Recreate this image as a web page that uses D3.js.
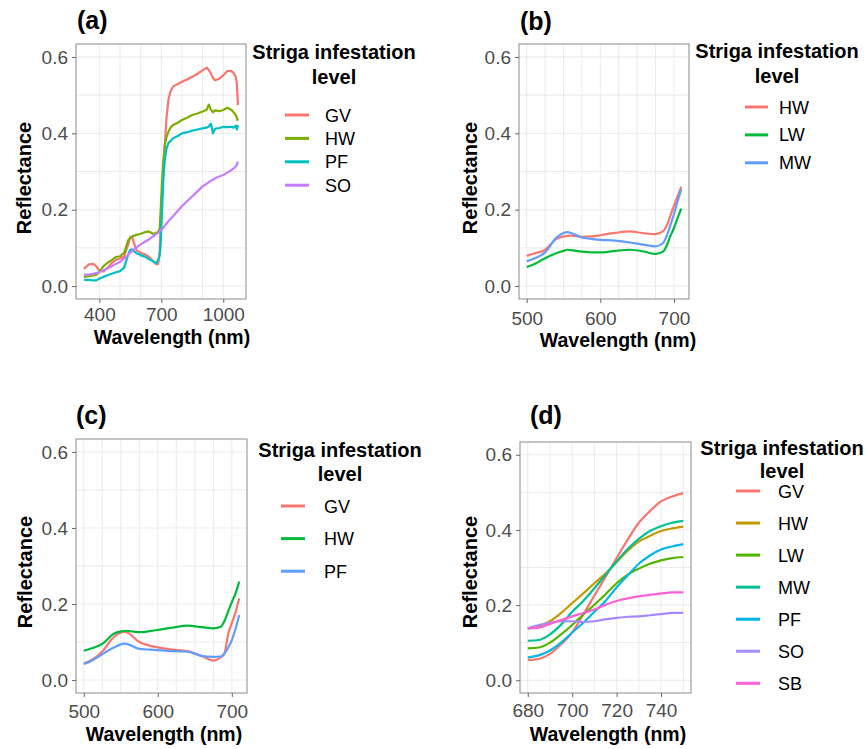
<!DOCTYPE html>
<html>
<head>
<meta charset="utf-8">
<script src="https://cdn.jsdelivr.net/npm/d3@7"></script>
<style>
	body { margin: 0; background: #fff; }
	svg { font-family: "Liberation Sans", Arial, sans-serif; }
	.grid line { stroke: #ebebeb; stroke-width: 1; }
	.border { fill: none; stroke: #8a8a8a; stroke-width: 1; }
	.axis .tick line { stroke: #666; }
	.axis .tick text { fill: #4d4d4d; font-size: 19px; }
	.axis .domain { display: none; }
	.spectrum { fill: none; stroke-width: 2.2; stroke-linejoin: round; }
	.bold { font-weight: bold; fill: #000; }
</style>
</head>
<body>
<svg id="chart" width="865" height="749"></svg>
<script>
// shared reflectance axis
let reflectTicks = [0, 0.2, 0.4, 0.6];
let reflectGrid = [0, 0.1, 0.2, 0.3, 0.4, 0.5, 0.6];

// (a) full range
let waveA = [325, 350, 370, 385, 400, 420, 440, 460, 480, 500, 520, 540, 550, 560, 570, 580, 600, 620, 640, 660,
	675, 685, 692, 697, 703, 710, 717, 725, 735, 745, 757, 780, 800, 825, 850, 875, 900, 920, 930, 940,
	950, 960, 980, 1000, 1020, 1040, 1050, 1060, 1066, 1071];
let aGV = [0.045, 0.057, 0.058, 0.052, 0.040, 0.038, 0.048, 0.060, 0.068, 0.072, 0.078, 0.109, 0.129, 0.126, 0.109, 0.094, 0.087, 0.083, 0.077, 0.065,
	0.057, 0.058, 0.09, 0.16, 0.23, 0.30, 0.37, 0.44, 0.49, 0.51, 0.523, 0.529, 0.535, 0.541, 0.548, 0.556, 0.565, 0.572, 0.566, 0.557,
	0.545, 0.539, 0.543, 0.552, 0.563, 0.563, 0.558, 0.548, 0.53, 0.474];
let aHW = [0.024, 0.026, 0.028, 0.030, 0.037, 0.052, 0.061, 0.068, 0.076, 0.078, 0.087, 0.120, 0.126, 0.130, 0.132, 0.134, 0.137, 0.141, 0.143, 0.137,
	0.139, 0.142, 0.150, 0.20, 0.27, 0.33, 0.37, 0.39, 0.405, 0.415, 0.422, 0.428, 0.435, 0.441, 0.448, 0.452, 0.457, 0.462, 0.475, 0.462,
	0.455, 0.460, 0.458, 0.461, 0.467, 0.461, 0.455, 0.448, 0.44, 0.433];
let aPF = [0.016, 0.016, 0.015, 0.015, 0.019, 0.024, 0.028, 0.032, 0.036, 0.039, 0.048, 0.083, 0.095, 0.096, 0.090, 0.086, 0.081, 0.077, 0.071, 0.065,
	0.060, 0.068, 0.08, 0.11, 0.19, 0.28, 0.33, 0.36, 0.375, 0.38, 0.387, 0.393, 0.400, 0.403, 0.407, 0.410, 0.413, 0.415, 0.418, 0.425,
	0.400, 0.412, 0.414, 0.417, 0.416, 0.417, 0.415, 0.42, 0.41, 0.422];
let aSO = [0.030, 0.030, 0.032, 0.034, 0.036, 0.041, 0.046, 0.052, 0.058, 0.063, 0.072, 0.082, 0.087, 0.092, 0.097, 0.101, 0.109, 0.116, 0.122, 0.130,
	0.136, 0.140, 0.143, 0.146, 0.149, 0.153, 0.158, 0.163, 0.170, 0.176, 0.183, 0.197, 0.209, 0.222, 0.235, 0.248, 0.261, 0.268, 0.272, 0.276,
	0.278, 0.282, 0.287, 0.291, 0.297, 0.304, 0.308, 0.313, 0.318, 0.326];

// (b) and (c) visible range
let waveBC = [500, 510, 525, 540, 550, 555, 560, 575, 590, 600, 620, 640, 660, 675, 685, 690, 695, 700, 705, 710];
let bHW = [0.079, 0.085, 0.095, 0.123, 0.130, 0.131, 0.132, 0.129, 0.130, 0.133, 0.139, 0.143, 0.138, 0.136, 0.143, 0.157, 0.183, 0.210, 0.235, 0.260];
let bLW = [0.050, 0.057, 0.073, 0.086, 0.092, 0.095, 0.094, 0.090, 0.088, 0.088, 0.092, 0.095, 0.090, 0.084, 0.090, 0.105, 0.130, 0.152, 0.178, 0.203];
let bMW = [0.065, 0.072, 0.088, 0.126, 0.139, 0.141, 0.139, 0.127, 0.123, 0.121, 0.119, 0.114, 0.108, 0.104, 0.112, 0.130, 0.158, 0.188, 0.222, 0.254];
let cGV = [0.044, 0.052, 0.075, 0.112, 0.125, 0.127, 0.124, 0.100, 0.090, 0.086, 0.080, 0.076, 0.063, 0.051, 0.060, 0.070, 0.120, 0.150, 0.178, 0.215];
let cHW = [0.077, 0.083, 0.095, 0.121, 0.128, 0.129, 0.129, 0.126, 0.129, 0.132, 0.138, 0.143, 0.139, 0.136, 0.140, 0.155, 0.180, 0.205, 0.228, 0.259];
let cPF = [0.042, 0.050, 0.068, 0.085, 0.094, 0.096, 0.094, 0.082, 0.080, 0.079, 0.076, 0.075, 0.063, 0.061, 0.062, 0.070, 0.085, 0.105, 0.135, 0.171];

// (d) red edge
let waveD = [680, 685, 690, 695, 700, 705, 710, 715, 720, 725, 730, 735, 740, 745, 750];
let dGV = [0.054, 0.057, 0.070, 0.096, 0.127, 0.175, 0.225, 0.275, 0.325, 0.374, 0.419, 0.450, 0.476, 0.489, 0.498];
let dHW = [0.138, 0.144, 0.157, 0.179, 0.205, 0.231, 0.258, 0.284, 0.314, 0.345, 0.369, 0.384, 0.397, 0.404, 0.409];
let dLW = [0.085, 0.087, 0.100, 0.122, 0.147, 0.175, 0.201, 0.229, 0.258, 0.281, 0.297, 0.310, 0.319, 0.325, 0.328];
let dMW = [0.105, 0.107, 0.122, 0.148, 0.182, 0.211, 0.245, 0.280, 0.316, 0.349, 0.376, 0.397, 0.410, 0.419, 0.424];
let dPF = [0.061, 0.066, 0.079, 0.100, 0.127, 0.153, 0.182, 0.211, 0.247, 0.279, 0.310, 0.332, 0.348, 0.356, 0.362];
let dSO = [0.138, 0.147, 0.153, 0.157, 0.157, 0.155, 0.157, 0.162, 0.166, 0.169, 0.170, 0.173, 0.176, 0.179, 0.179];
let dSB = [0.138, 0.140, 0.150, 0.160, 0.170, 0.179, 0.188, 0.201, 0.211, 0.218, 0.223, 0.227, 0.231, 0.234, 0.234];

let legendTitle = ['Striga infestation', 'level'];

let panels = [
	{
		label: '(a)', labelX: 77, labelY: 29,
		left: 76, right: 246, top: 44, bottom: 299,
		xDomain: [287, 1110], xTicks: [400, 700, 1000], xGrid: d3.range(400, 1001, 100),
		waves: waveA, curve: d3.curveLinear,
		series: [
			{name: 'GV', values: aGV, color: '#F8766D'},
			{name: 'HW', values: aHW, color: '#7CAE00'},
			{name: 'PF', values: aPF, color: '#00BFC4'},
			{name: 'SO', values: aSO, color: '#C77CFF'}
		],
		xTickY: 22, xTitle: {x: 172, y: 344}, yTitle: {x: 31, y: 178},
		legend: {cx: 334, t1: 59, t2: 84, first: 115, step: 23.4, k1: 285, k2: 309, tx: 325}
	},
	{
		label: '(b)', labelX: 520, labelY: 30,
		left: 519, right: 689, top: 44, bottom: 299,
		xDomain: [489.5, 720.5], xTicks: [500, 600, 700], xGrid: d3.range(500, 701, 25),
		waves: waveBC, curve: d3.curveMonotoneX,
		series: [
			{name: 'HW', values: bHW, color: '#F8766D'},
			{name: 'LW', values: bLW, color: '#00BA38'},
			{name: 'MW', values: bMW, color: '#619CFF'}
		],
		xTickY: 26, xTitle: {x: 618, y: 347}, yTitle: {x: 477, y: 178},
		legend: {cx: 777, t1: 58, t2: 83, first: 107, step: 27.9, k1: 745, k2: 768, tx: 779}
	},
	{
		label: '(c)', labelX: 76, labelY: 424,
		left: 76, right: 247, top: 439, bottom: 693,
		xDomain: [489.5, 720.5], xTicks: [500, 600, 700], xGrid: d3.range(500, 701, 25),
		waves: waveBC, curve: d3.curveMonotoneX,
		series: [
			{name: 'GV', values: cGV, color: '#F8766D'},
			{name: 'HW', values: cHW, color: '#00BA38'},
			{name: 'PF', values: cPF, color: '#619CFF'}
		],
		xTickY: 25, xTitle: {x: 164, y: 741}, yTitle: {x: 32, y: 572},
		legend: {cx: 340, t1: 457, t2: 481, first: 506, step: 32.6, k1: 281, k2: 305, tx: 324}
	},
	{
		label: '(d)', labelX: 530, labelY: 424,
		left: 520, right: 691, top: 442, bottom: 693,
		xDomain: [676.5, 753.5], xTicks: [680, 700, 720, 740], xGrid: d3.range(680, 751, 10),
		waves: waveD, curve: d3.curveMonotoneX,
		series: [
			{name: 'GV', values: dGV, color: '#F8766D'},
			{name: 'HW', values: dHW, color: '#C49A00'},
			{name: 'LW', values: dLW, color: '#53B400'},
			{name: 'MW', values: dMW, color: '#00C094'},
			{name: 'PF', values: dPF, color: '#00B6EB'},
			{name: 'SO', values: dSO, color: '#A58AFF'},
			{name: 'SB', values: dSB, color: '#FB61D7'}
		],
		xTickY: 24, xTitle: {x: 608, y: 741}, yTitle: {x: 476.5, y: 572},
		legend: {cx: 782, t1: 455, t2: 478, first: 491, step: 32.05, k1: 736, k2: 760, tx: 778}
	}
];

function SpectraPanel(svg, p) {
	// y range is the same for every panel, 0.6 sits 13px under the top edge
	let x = d3.scaleLinear().domain(p.xDomain).range([p.left, p.right]);
	let y = d3.scaleLinear().domain([-0.034, 0.634]).range([p.bottom, p.top]);

	let g = svg.append('g').attr('class', 'panel');

	let grid = g.append('g').attr('class', 'grid');
	grid.selectAll('line.h')
		.data(reflectGrid)
		.enter().append('line')
			.attr('class', 'h')
			.attr('x1', p.left).attr('x2', p.right)
			.attr('y1', function(d) { return y(d); })
			.attr('y2', function(d) { return y(d); });
	grid.selectAll('line.v')
		.data(p.xGrid)
		.enter().append('line')
			.attr('class', 'v')
			.attr('y1', p.top).attr('y2', p.bottom)
			.attr('x1', function(d) { return x(d); })
			.attr('x2', function(d) { return x(d); });

	let line = d3.line()
		.x(function(d, i) { return x(p.waves[i]); })
		.y(function(d) { return y(d); })
		.curve(p.curve);

	g.append('g')
		.selectAll('path')
		.data(p.series)
		.enter().append('path')
			.attr('class', 'spectrum')
			.attr('stroke', function(d) { return d.color; })
			.attr('d', function(d) { return line(d.values); });

	g.append('rect')
		.attr('class', 'border')
		.attr('x', p.left).attr('y', p.top)
		.attr('width', p.right - p.left)
		.attr('height', p.bottom - p.top);

	g.append('g')
		.attr('class', 'axis')
		.attr('transform', 'translate(' + p.left + ',0)')
		.call(d3.axisLeft(y).tickValues(reflectTicks).tickFormat(d3.format('.1f')).tickSize(4).tickPadding(4));

	let xAxis = g.append('g')
		.attr('class', 'axis')
		.attr('transform', 'translate(0,' + p.bottom + ')')
		.call(d3.axisBottom(x).tickValues(p.xTicks).tickFormat(d3.format('d')).tickSize(4));
	xAxis.selectAll('.tick text').attr('y', p.xTickY).attr('dy', 0);

	g.append('text')
		.attr('class', 'bold')
		.attr('x', p.labelX).attr('y', p.labelY)
		.style('font-size', '25px')
		.text(p.label);

	g.append('text')
		.attr('class', 'bold')
		.attr('x', p.xTitle.x).attr('y', p.xTitle.y)
		.style('font-size', '19.5px')
		.style('text-anchor', 'middle')
		.text('Wavelength (nm)');

	g.append('text')
		.attr('class', 'bold')
		.attr('transform', 'translate(' + p.yTitle.x + ',' + p.yTitle.y + ') rotate(-90)')
		.style('font-size', '20px')
		.style('text-anchor', 'middle')
		.text('Reflectance');

	// legend
	let lg = p.legend;
	g.append('text')
		.attr('class', 'bold')
		.attr('x', lg.cx).attr('y', lg.t1)
		.style('font-size', '20px')
		.style('text-anchor', 'middle')
		.text(legendTitle[0]);
	g.append('text')
		.attr('class', 'bold')
		.attr('x', lg.cx).attr('y', lg.t2)
		.style('font-size', '20px')
		.style('text-anchor', 'middle')
		.text(legendTitle[1]);

	let item = g.append('g')
		.selectAll('g')
		.data(p.series)
		.enter().append('g')
			.attr('transform', function(d, i) { return 'translate(0,' + (lg.first + i * lg.step) + ')'; });
	item.append('line')
		.attr('x1', lg.k1).attr('x2', lg.k2)
		.attr('stroke', function(d) { return d.color; })
		.attr('stroke-width', 3);
	item.append('text')
		.attr('x', lg.tx).attr('y', 6.5)
		.style('font-size', '18px')
		.text(function(d) { return d.name; });
}

let svg = d3.select('#chart');
panels.forEach(function(p) { SpectraPanel(svg, p); });
</script>
</body>
</html>
